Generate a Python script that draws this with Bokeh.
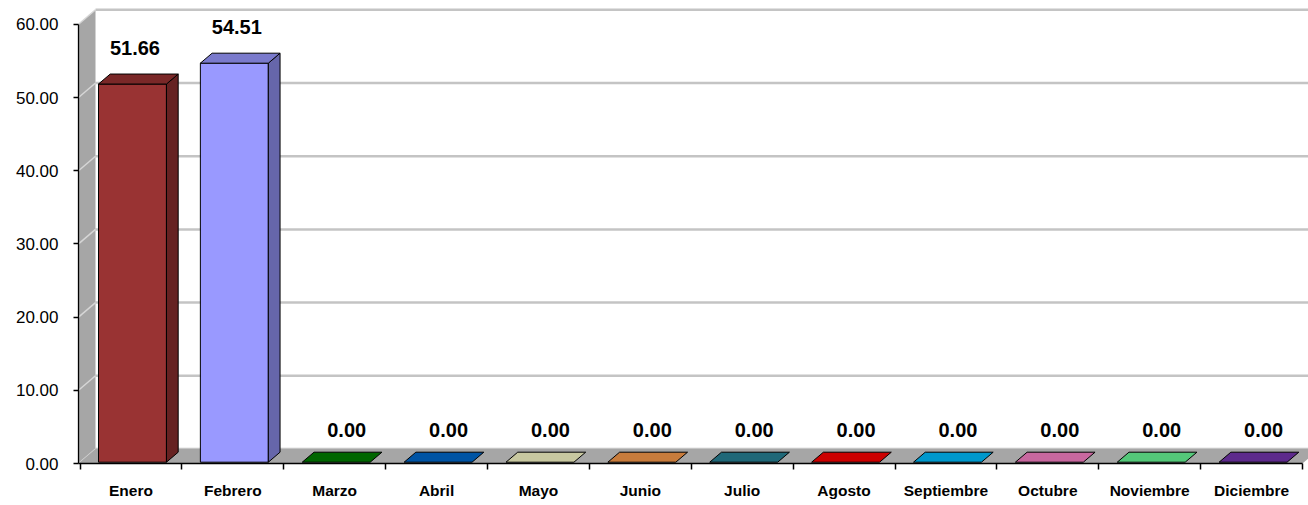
from bokeh.plotting import figure
from bokeh.models import Range1d, FixedTicker, CustomJSTickFormatter, NumeralTickFormatter, LinearAxis, ColumnDataSource
from bokeh.core.properties import value
from bokeh.embed import file_html
from bokeh.resources import INLINE

# ---------------- data ----------------
months = ["Enero", "Febrero", "Marzo", "Abril", "Mayo", "Junio", "Julio",
          "Agosto", "Septiembre", "Octubre", "Noviembre", "Diciembre"]
values = [51.66, 54.51, 0.00, 0.00, 0.00, 0.00, 0.00, 0.00, 0.00, 0.00, 0.00, 0.00]
colors = ["#993333", "#9999FF", "#008000", "#006ACE", "#FBFBC8", "#FA9C4B",
          "#298297", "#FF0000", "#00BFFF", "#FA82C7", "#6AFB98", "#7535AF"]
y_ticks = [0, 10, 20, 30, 40, 50, 60]

# ---------------- geometry ----------------
W, H = 1308, 505
LEFT, BOTTOM = 78, 42
FW, FH = W - LEFT, H - BOTTOM
PX_CAT = 101.875          # pixels per category
PX_VAL = 7.32             # pixels per value unit
XS = -1.5 / PX_CAT
XE = XS + FW / PX_CAT
YE = FH / PX_VAL
DX = 17 / PX_CAT          # depth offset (x) in data units
DY = 14.5 / PX_VAL        # depth offset (y) in data units
F0, F1 = 0.09, 0.78       # bar depth start / end fractions
BW = 0.667                # bar width (category units)
FONT = "'Liberation Sans', Arial, sans-serif"


def shade(hexcol, f):
    h = hexcol.lstrip("#")
    r, g, b = (int(h[i:i + 2], 16) for i in (0, 2, 4))
    return "#%02x%02x%02x" % (int(r * f), int(g * f), int(b * f))


p = figure(frame_width=FW, frame_height=FH, x_range=Range1d(XS, XE), y_range=Range1d(0, YE),
           x_axis_type=None, y_axis_type=None, output_backend="svg",
           toolbar_location=None, min_border_left=LEFT, min_border_bottom=BOTTOM,
           min_border_top=0, min_border_right=0)
p.outline_line_color = None
p.background_fill_color = "white"
p.border_fill_color = "white"

# back-wall gridlines
p.segment(x0=[XS + DX] * len(y_ticks), y0=[t + DY for t in y_ticks],
          x1=[12 + DX] * len(y_ticks), y1=[t + DY for t in y_ticks],
          line_color="#c4c4c4", line_width=2.5)

# left wall
top = max(y_ticks)
p.patch(x=[XS, XS, XS + DX, XS + DX], y=[0, top, top + DY, DY],
        fill_color="#a6a6a6", line_color=None)
p.segment(x0=[XS] * len(y_ticks), y0=y_ticks,
          x1=[XS + DX] * len(y_ticks), y1=[t + DY for t in y_ticks],
          line_color="#d6d6d6", line_width=1.5)
# floor
p.patch(x=[XS, XS + DX, 12 + DX, 12], y=[0, DY, DY, 0],
        fill_color="#a6a6a6", line_color=None)

# bars
ddx, ddy = (F1 - F0) * DX, (F1 - F0) * DY
fl, fr, fb, ft, fc = [], [], [], [], []
top_x, top_y, top_c = [], [], []
side_x, side_y, side_c = [], [], []
for i, (v, c) in enumerate(zip(values, colors)):
    L = i + 0.5 - BW / 2 + F0 * DX
    R = L + BW
    B = F0 * DY
    T = v + B
    if v > 0:
        fl.append(L); fr.append(R); fb.append(B); ft.append(T); fc.append(c)
        side_x.append([R, R + ddx, R + ddx, R])
        side_y.append([B, B + ddy, T + ddy, T])
        side_c.append(shade(c, 0.67))
    top_x.append([L, R, R + ddx, L + ddx])
    top_y.append([T, T, T + ddy, T + ddy])
    top_c.append(shade(c, 0.8))

p.quad(left=fl, right=fr, bottom=fb, top=ft, fill_color=fc,
       line_color="black", line_width=1)
p.patches(xs=side_x, ys=side_y, fill_color=side_c, line_color="black", line_width=1)
p.patches(xs=top_x, ys=top_y, fill_color=top_c, line_color="black", line_width=1)

# value labels
lab_x = [i + 0.5 + (4 if v > 0 else 12) / PX_CAT for i, v in enumerate(values)]
lab_y = [v + F1 * DY + (26 if v > 0 else 22) / PX_VAL for v in values]
src = ColumnDataSource(dict(x=lab_x, y=lab_y, t=["%.2f" % v for v in values]))
p.text(x="x", y="y", text="t", source=src, text_align="center",
       text_baseline="middle", text_font=value(FONT), text_font_size="20px",
       text_font_style="bold", text_color="black")

# y axis
yaxis = LinearAxis(ticker=FixedTicker(ticks=y_ticks),
                   formatter=NumeralTickFormatter(format="0.00"))
yaxis.bounds = (0, top)
yaxis.axis_line_color = "black"
yaxis.axis_line_width = 1.3
yaxis.major_tick_out = 5
yaxis.major_tick_in = 0
yaxis.major_tick_line_width = 1.5
yaxis.minor_tick_line_color = None
yaxis.major_label_standoff = 15
yaxis.major_label_text_font = FONT
yaxis.major_label_text_font_size = "17px"
yaxis.major_label_text_color = "black"
p.add_layout(yaxis, "left")

# x axis
xaxis = LinearAxis(ticker=FixedTicker(ticks=[i + 0.5 for i in range(len(months))],
                                      minor_ticks=list(range(len(months) + 1))),
                   formatter=CustomJSTickFormatter(args=dict(m=months),
                                                   code="return m[Math.floor(tick)];"))
xaxis.bounds = (XS, len(months))
xaxis.axis_line_color = "black"
xaxis.axis_line_width = 1.3
xaxis.major_tick_out = 0
xaxis.major_tick_in = 0
xaxis.minor_tick_out = 6
xaxis.minor_tick_in = 0
xaxis.minor_tick_line_color = "black"
xaxis.minor_tick_line_width = 1.5
xaxis.major_label_standoff = 12
xaxis.major_label_text_font = FONT
xaxis.major_label_text_font_size = "15.5px"
xaxis.major_label_text_font_style = "bold"
xaxis.major_label_text_color = "black"
p.add_layout(xaxis, "below")

open("out.html", "w").write(file_html(p, INLINE))
